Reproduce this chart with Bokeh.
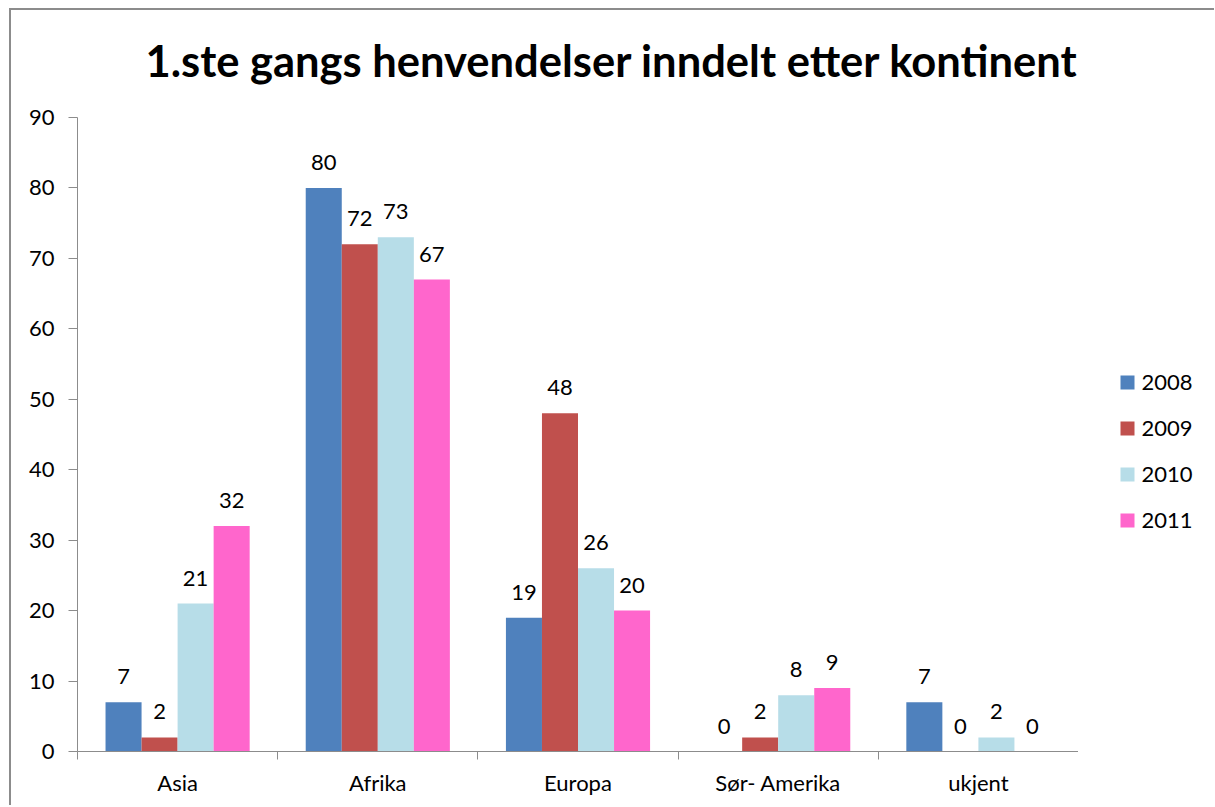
from bokeh.plotting import figure
from bokeh.layouts import row, column
from bokeh.models import (Range1d, LinearAxis, FixedTicker, ColumnDataSource)
from bokeh.transform import dodge
from bokeh.core.properties import value
from bokeh.embed import file_html
from bokeh.resources import INLINE

title_text = "1.ste gangs henvendelser inndelt etter kontinent"
categories = ["Asia", "Afrika", "Europa", "Sør- Amerika", "ukjent"]
years = ["2008", "2009", "2010", "2011"]
v2008 = [7, 80, 19, 0, 7]
v2009 = [2, 72, 48, 2, 0]
v2010 = [21, 73, 26, 8, 2]
v2011 = [32, 67, 20, 9, 0]
colors = ["#4F81BD", "#C0504D", "#B7DDE8", "#FF66CC"]
y_ticks = list(range(0, 100, 10))

FONT = "Lato"
GRAY = "#8c8c8c"
FS = "22px"
FRAME_W, FRAME_H = 1001, 634

n = len(categories)
centers = [i + 0.5 for i in range(n)]
bounds = list(range(n + 1))

src = ColumnDataSource(dict(xc=centers, y2008=v2008, y2009=v2009, y2010=v2010, y2011=v2011,
                            t2008=[str(v) for v in v2008], t2009=[str(v) for v in v2009],
                            t2010=[str(v) for v in v2010], t2011=[str(v) for v in v2011]))

# ---- title strip ----
TITLE_H = 93
tf = figure(frame_width=FRAME_W, frame_height=TITLE_H, x_range=Range1d(0, FRAME_W),
            y_range=Range1d(TITLE_H, 0), output_backend="svg", toolbar_location=None,
            x_axis_type=None, y_axis_type=None,
            min_border_left=66, min_border_right=0, min_border_top=0, min_border_bottom=0)
tf.outline_line_color = None
tf.grid.grid_line_color = None
tf.border_fill_color = "white"
tf.background_fill_color = "white"
tf.text(x=[FRAME_W], y=[49], text=[title_text], text_align="right", text_baseline="alphabetic",
        text_font=value(FONT), text_font_size="43.5px", text_font_style="bold", text_color="#000000")

# ---- main chart ----
p = figure(frame_width=FRAME_W, frame_height=FRAME_H, x_range=Range1d(0, n),
           y_range=Range1d(0, 90), output_backend="svg", toolbar_location=None,
           x_axis_type=None, y_axis_type=None,
           min_border_left=66, min_border_top=14, min_border_bottom=54, min_border_right=0)
p.outline_line_color = None
p.background_fill_color = "white"
p.border_fill_color = "white"

yax = LinearAxis(ticker=FixedTicker(ticks=y_ticks))
yax.axis_line_color = GRAY
yax.major_tick_line_color = GRAY
yax.major_tick_out = 9
yax.major_tick_in = 0
yax.minor_tick_line_color = None
yax.major_label_text_font = FONT
yax.major_label_text_font_size = FS
yax.major_label_text_color = "#000000"
yax.major_label_standoff = 14
p.add_layout(yax, "left")
p.ygrid.ticker = FixedTicker(ticks=y_ticks)
p.ygrid.grid_line_color = GRAY
p.ygrid.grid_line_width = 1
p.xgrid.grid_line_color = None

bax = LinearAxis(ticker=FixedTicker(ticks=bounds))
bax.axis_line_color = GRAY
bax.major_tick_line_color = GRAY
bax.major_tick_out = 8
bax.major_tick_in = 0
bax.minor_tick_line_color = None
bax.major_label_overrides = {b: " " for b in bounds}
bax.major_label_text_font_size = "1px"
bax.major_label_standoff = 0
p.add_layout(bax, "below")

cax = LinearAxis(ticker=FixedTicker(ticks=centers))
cax.major_label_overrides = {c: name for c, name in zip(centers, categories)}
cax.axis_line_color = None
cax.major_tick_line_color = None
cax.minor_tick_line_color = None
cax.major_tick_out = 0
cax.major_label_text_font = FONT
cax.major_label_text_font_size = FS
cax.major_label_text_color = "#000000"
cax.major_label_standoff = 5
p.add_layout(cax, "below")

offsets = [-0.27, -0.09, 0.09, 0.27]
for yr, col, off in zip(years, colors, offsets):
    p.vbar(x=dodge("xc", off), top="y" + yr, width=0.18, source=src,
           fill_color=col, line_color=None)
    p.text(x=dodge("xc", off), y="y" + yr, text="t" + yr, source=src,
           text_align="center", text_baseline="bottom", y_offset=-18,
           text_font=value(FONT), text_font_size=FS, text_color="#000000")

# ---- legend strip (its frame is aligned with the chart frame by the row) ----
LEG_W = 136
lg = figure(width=LEG_W, frame_height=FRAME_H, x_range=Range1d(0, LEG_W), y_range=Range1d(FRAME_H, 0),
            output_backend="svg", toolbar_location=None, x_axis_type=None, y_axis_type=None,
            min_border_left=0, min_border_right=0, min_border_top=14, min_border_bottom=54)
lg.outline_line_color = None
lg.grid.grid_line_color = None
lg.border_fill_color = "white"
lg.background_fill_color = "white"
leg_src = ColumnDataSource(dict(label=years, color=colors,
                                gx=[49] * len(years), tx=[63] * len(years),
                                gy=[265 + 46 * i for i in range(len(years))]))
lg.scatter(x="gx", y="gy", marker="square", size=14, fill_color="color", line_color=None,
           source=leg_src)
lg.text(x="tx", y="gy", text="label", source=leg_src, text_align="left", text_baseline="middle",
        text_font=value(FONT), text_font_size=FS, text_color="#000000")

layout = column(tf, row(p, lg))
layout.styles = {"border-top": "2px solid #8c8c8c", "border-left": "2px solid #8c8c8c",
                 "margin-left": "9px", "margin-top": "8px"}

open("out.html", "w").write(file_html(layout, INLINE))
